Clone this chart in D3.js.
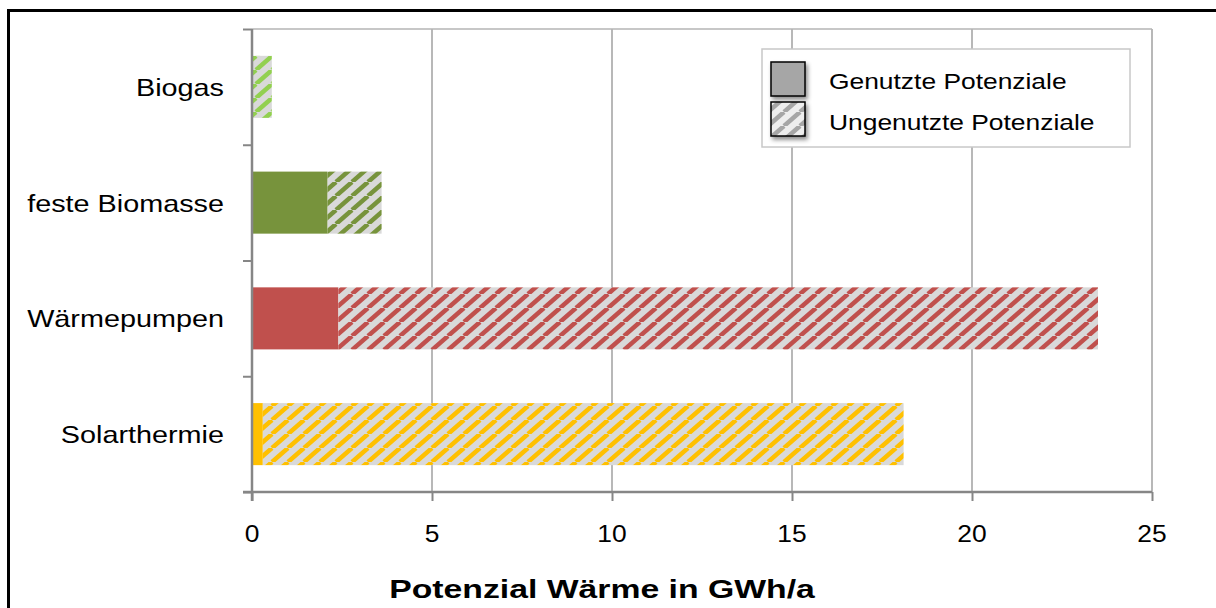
<!DOCTYPE html>
<html><head><meta charset="utf-8">
<script src="https://cdn.jsdelivr.net/npm/d3@7"></script>
<style>html,body{margin:0;padding:0;background:#fff;}svg{display:block;}</style>
</head><body>
<script>
// Data (top to bottom)
const categories = ["Biogas", "feste Biomasse", "Wärmepumpen", "Solarthermie"];
const usedValues = [0, 2.1, 2.4, 0.3];
const unusedValues = [0.55, 1.5, 21.1, 17.8];
const seriesNames = ["Genutzte Potenziale", "Ungenutzte Potenziale"];
const xTicks = [0, 5, 10, 15, 20, 25];
const xTitle = "Potenzial Wärme in GWh/a";
const categoryColors = ["#92D050", "#77933C", "#C0504D", "#FFC000"];

const W = 1216, H = 608;
const FONT = "Liberation Sans, Arial, sans-serif";
const svg = d3.select("body").append("svg").attr("width", W).attr("height", H);
const defs = svg.append("defs");

function hatch(id, color, bg) {
  const pw = 16, ph = 14;
  const p = defs.append("pattern").attr("id", id).attr("patternUnits", "userSpaceOnUse")
    .attr("width", pw).attr("height", ph);
  p.append("rect").attr("width", pw).attr("height", ph).attr("fill", bg);
  [-1, 0, 1].forEach(k => {
    p.append("line").attr("x1", k * pw).attr("y1", ph).attr("x2", k * pw + pw).attr("y2", 0)
      .attr("stroke", color).attr("stroke-width", 4.5);
  });
}
categoryColors.forEach((c, i) => hatch("h" + i, c, "#D9D9D9"));
hatch("hleg", "#A6A6A6", "#EEEEEE");

const filt = defs.append("filter").attr("id", "sh").attr("x", "-30%").attr("y", "-30%").attr("width", "180%").attr("height", "180%");
filt.append("feDropShadow").attr("dx", 2).attr("dy", 3).attr("stdDeviation", 2).attr("flood-color", "#000").attr("flood-opacity", 0.45);

// outer border
svg.append("rect").attr("x", 8.5).attr("y", 10.5).attr("width", 1400).attr("height", 800)
  .attr("fill", "none").attr("stroke", "#000").attr("stroke-width", 3);

const plot = {left: 252, right: 1152, top: 29, bottom: 492};
const x = d3.scaleLinear().domain([0, 25]).range([plot.left, plot.right]);
const y = d3.scaleBand().domain(categories).range([plot.top, plot.bottom]).paddingInner(0.464).paddingOuter(0.232);
const yb = d3.scaleLinear().domain([0, categories.length]).range([plot.top, plot.bottom]);

// gridlines
svg.append("g").selectAll("line").data(xTicks.filter(t => t > 0)).join("line")
  .attr("x1", d => x(d)).attr("x2", d => x(d)).attr("y1", plot.top).attr("y2", plot.bottom)
  .attr("stroke", "#A0A0A0").attr("stroke-width", 1.5);
svg.append("line").attr("x1", plot.left).attr("x2", plot.right).attr("y1", plot.top).attr("y2", plot.top)
  .attr("stroke", "#B5B5B5").attr("stroke-width", 1.5);

// bars
const rows = categories.map((c, i) => ({c, i, used: usedValues[i], unused: unusedValues[i]}));
const bars = svg.append("g");
bars.selectAll("rect.used").data(rows).join("rect").attr("class", "used")
  .attr("x", x(0)).attr("y", d => y(d.c)).attr("height", y.bandwidth())
  .attr("width", d => x(d.used) - x(0)).attr("fill", d => categoryColors[d.i]);
bars.selectAll("rect.unused").data(rows).join("rect").attr("class", "unused")
  .attr("x", d => x(d.used)).attr("y", d => y(d.c)).attr("height", y.bandwidth())
  .attr("width", d => x(d.used + d.unused) - x(d.used)).attr("fill", d => `url(#h${d.i})`);

// axes
const xAxis = svg.append("g").attr("transform", `translate(0,${plot.bottom})`)
  .call(d3.axisBottom(x).tickValues(xTicks).tickSize(9).tickFormat(""));
xAxis.select(".domain").attr("stroke", "#868686").attr("stroke-width", 2.5).attr("d", `M${plot.left - 9},0H${plot.right}`);
xAxis.selectAll(".tick line").attr("stroke", "#868686").attr("stroke-width", 2);

const yAxis = svg.append("g").attr("transform", `translate(${plot.left},0)`)
  .call(d3.axisLeft(yb).tickValues(d3.range(categories.length + 1)).tickSize(9).tickFormat(""));
yAxis.select(".domain").attr("stroke", "#868686").attr("stroke-width", 2.5).attr("d", `M0,${plot.top}V${plot.bottom + 9}`);
yAxis.selectAll(".tick line").attr("stroke", "#868686").attr("stroke-width", 2);

function txt(g, s, tx, ty, anchor, size, sx, weight) {
  return g.append("text").attr("transform", `translate(${tx},${ty}) scale(${sx},1)`)
    .attr("text-anchor", anchor).attr("font-family", FONT).attr("font-size", size)
    .attr("font-weight", weight || "normal").attr("fill", "#000").text(s);
}
const tg = svg.append("g");
categories.forEach(c => txt(tg, c, 224, y(c) + y.bandwidth() / 2 + 9, "end", 24, 1.2));
xTicks.forEach(t => txt(tg, String(t), x(t), 542, "middle", 24, 1.1));
txt(tg, xTitle, 602, 598, "middle", 25, 1.35, "bold");

// legend
const lg = svg.append("g");
lg.append("rect").attr("x", 762).attr("y", 49).attr("width", 368).attr("height", 98)
  .attr("fill", "#fff").attr("stroke", "#C8C8C8").attr("stroke-width", 1.5);
const legFills = ["#A6A6A6", "url(#hleg)"];
seriesNames.forEach((n, i) => {
  lg.append("rect").attr("x", 771).attr("y", 62 + i * 40).attr("width", 34).attr("height", 34)
    .attr("fill", legFills[i]).attr("stroke", "#000").attr("stroke-width", 1.5).attr("filter", "url(#sh)");
  txt(lg, n, 829, 89 + i * 41, "start", 22, 1.2);
});
</script>
</body></html>
